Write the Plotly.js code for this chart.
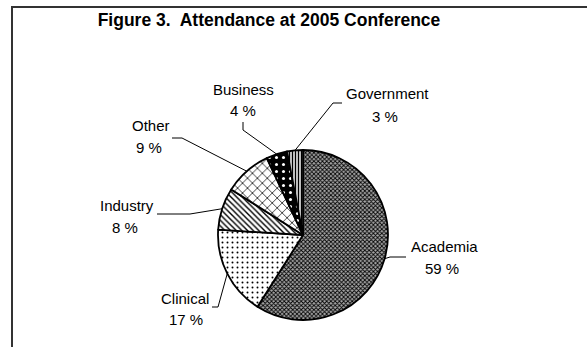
<!DOCTYPE html>
<html>
<head>
<meta charset="utf-8">
<script src="https://cdn.plot.ly/plotly-3.0.1.min.js"></script>
<style>
  html, body { margin: 0; padding: 0; background: #fff; overflow: hidden; }
  #chart { position: absolute; left: 0; top: 0; width: 587px; height: 347px; }
  #frame { position: absolute; left: 11px; top: 6px; width: 640px; height: 400px;
           border-left: 2px solid #333; border-top: 2px solid #333; pointer-events: none; }
</style>
</head>
<body>
<div id="chart"></div>
<div id="frame"></div>
<script>
// Attendance shares by sector (percent)
const categories = ['Academia', 'Clinical', 'Industry', 'Other', 'Business', 'Government'];
const shares = [59, 17, 8, 9, 4, 3];
const chartTitle = 'Figure 3.  Attendance at 2005 Conference';

// Fill pattern per slice
const patternShapes = ['x', '.', '\\', 'x', '.', '|'];
const patternFg = ['#000', '#000', '#000', '#000', '#fff', '#000'];
const patternBg = ['#a8a8a8', '#fff', '#fff', '#fff', '#000', '#e6e6e6'];
const patternSize = [3, 5, 4, 7, 7, 3];
const patternSolidity = [0.5, 0.12, 0.35, 0.2, 0.15, 0.45];

// Page geometry (pixels)
const W = 587, H = 347;
const pie = { cx: 303, cy: 235, r: 85 };

// Label placement: centre of name line, centre of percent line, leader path after the slice edge
const labelLayout = {
  Academia:   { name: [444, 246], pct: [442, 268], leader: [[390, 257], [406, 257]] },
  Clinical:   { name: [185, 298], pct: [186, 319], leader: [[218, 307], [212, 307]] },
  Industry:   { name: [127, 205], pct: [125, 227], leader: [[190, 214], [157, 214]] },
  Other:      { name: [151, 125], pct: [149, 147], leader: [[182, 138], [172, 138]] },
  Business:   { name: [243, 89],  pct: [243, 110], leader: [[243, 130], [243, 122]] },
  Government: { name: [387, 93],  pct: [385, 116], leader: [[333, 103], [342, 103]] }
};

const px = x => x / W;
const py = y => 1 - y / H;

const total = shares.reduce((a, b) => a + b, 0);
const font = { family: 'Liberation Sans, Arial, sans-serif', size: 15, color: '#000' };

const annotations = [];
const shapes = [];
let cum = 0;
categories.forEach((cat, i) => {
  // slice midpoint on the rim (clockwise from 12 o'clock)
  const mid = (cum + shares[i] / 2) / total * 2 * Math.PI;
  cum += shares[i];
  const ex = pie.cx + pie.r * Math.sin(mid);
  const ey = pie.cy - pie.r * Math.cos(mid);
  const L = labelLayout[cat];
  let d = 'M ' + px(ex) + ' ' + py(ey);
  L.leader.forEach(p => { d += ' L ' + px(p[0]) + ' ' + py(p[1]); });
  shapes.push({ type: 'path', xref: 'paper', yref: 'paper', path: d,
                line: { color: '#000', width: 1 } });
  annotations.push({ xref: 'paper', yref: 'paper', x: px(L.name[0]), y: py(L.name[1]),
                     xanchor: 'center', yanchor: 'middle', showarrow: false,
                     text: cat, font: font });
  annotations.push({ xref: 'paper', yref: 'paper', x: px(L.pct[0]), y: py(L.pct[1]),
                     xanchor: 'center', yanchor: 'middle', showarrow: false,
                     text: shares[i] + ' %', font: font });
});

const trace = {
  type: 'pie',
  labels: categories,
  values: shares,
  sort: false,
  direction: 'clockwise',
  rotation: 0,
  textinfo: 'none',
  hoverinfo: 'label+percent',
  showlegend: false,
  domain: { x: [px(pie.cx - pie.r), px(pie.cx + pie.r)],
            y: [py(pie.cy + pie.r), py(pie.cy - pie.r)] },
  marker: {
    colors: patternBg,
    line: { color: '#000', width: 1.8 },
    pattern: {
      shape: patternShapes,
      fgcolor: patternFg,
      bgcolor: patternBg,
      size: patternSize,
      solidity: patternSolidity,
      fillmode: 'replace'
    }
  }
};

const layout = {
  width: W, height: H,
  margin: { l: 0, r: 0, t: 0, b: 0 },
  paper_bgcolor: '#fff',
  title: { text: '<b>' + chartTitle + '</b>', x: px(269), xanchor: 'center',
           y: py(20), yanchor: 'middle', yref: 'paper',
           font: { family: 'Liberation Sans, Arial, sans-serif', size: 17.5, color: '#000' } },
  annotations: annotations,
  shapes: shapes
};

Plotly.newPlot('chart', [trace], layout, { displayModeBar: false, staticPlot: true });
</script>
</body>
</html>
